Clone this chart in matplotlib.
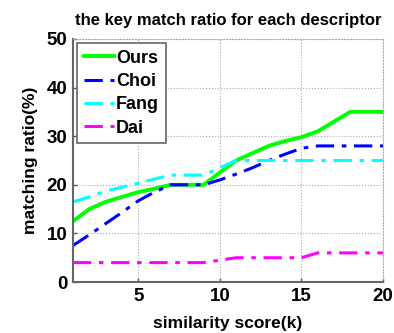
import matplotlib
matplotlib.use('Agg')
import matplotlib.pyplot as plt

k = list(range(1, 21))
ours = [12.5, 15, 16.5, 17.5, 18.5, 19.2, 20, 20, 20, 22.5, 25, 26.5, 28, 29, 29.8, 31, 33, 35, 35, 35]
choi = [7.5, 9.7, 12, 14.3, 16.7, 18.5, 20, 20, 20, 21, 22.2, 23.5, 25, 26.3, 27.5, 28, 28, 28, 28, 28]
fang = [16.5, 17.5, 18.7, 19.5, 20.3, 21.2, 22, 22, 22, 23.5, 25, 25, 25, 25, 25, 25, 25, 25, 25, 25]
dai = [4, 4, 4, 4, 4, 4, 4, 4, 4, 4.5, 5, 5, 5, 5, 5, 6, 6, 6, 6, 6]

plt.rcParams['font.family'] = ['Liberation Sans', 'DejaVu Sans']

fig = plt.figure(figsize=(3.94, 3.33), dpi=100)
ax = fig.add_axes([0.185, 0.153, 0.787, 0.73])

dashdot = (0, (6, 2.5, 1.5, 2.5))
ax.plot(k, ours, color='#00ff00', lw=2.8, label='Ours')
ax.plot(k, choi, color='#0000ff', lw=2.2, linestyle=dashdot, label='Choi')
ax.plot(k, fang, color='#00ffff', lw=2.2, linestyle=dashdot, label='Fang')
ax.plot(k, dai, color='#ff00ff', lw=2.2, linestyle=dashdot, label='Dai')

ax.set_xlim(1, 20)
ax.set_ylim(0, 50)
ax.set_xticks([5, 10, 15, 20])
ax.set_yticks([0, 10, 20, 30, 40, 50])
ax.grid(True, linestyle=':', color='#aaaaaa', lw=0.8)
ax.tick_params(direction='in', length=3, labelsize=13.5, width=1, color='#555555', pad=4)
for t in ax.get_xticklabels() + ax.get_yticklabels():
    t.set_fontweight('bold')
for s in ['top', 'right']:
    ax.spines[s].set_linestyle(':')
    ax.spines[s].set_color('#aaaaaa')
    ax.spines[s].set_linewidth(0.8)
for s in ['left', 'bottom']:
    ax.spines[s].set_color('#666666')
    ax.spines[s].set_linewidth(1.5)

ax.set_title('the key match ratio for each descriptor', fontsize=12, fontweight='bold', pad=10)
ax.set_xlabel('similarity score(k)', fontsize=12.5, fontweight='bold', labelpad=8)
ax.set_ylabel('matching ratio(%)', fontsize=12.5, fontweight='bold', labelpad=6)

leg = ax.legend(loc='upper left', prop={'weight': 'bold', 'size': 13}, handlelength=1.7,
                fancybox=False, framealpha=1, edgecolor='#666666', borderaxespad=0.25,
                labelspacing=0.35, handletextpad=0.1, borderpad=0.35)
leg.get_frame().set_linewidth(1.2)

fig.savefig('out.png', dpi=100)
